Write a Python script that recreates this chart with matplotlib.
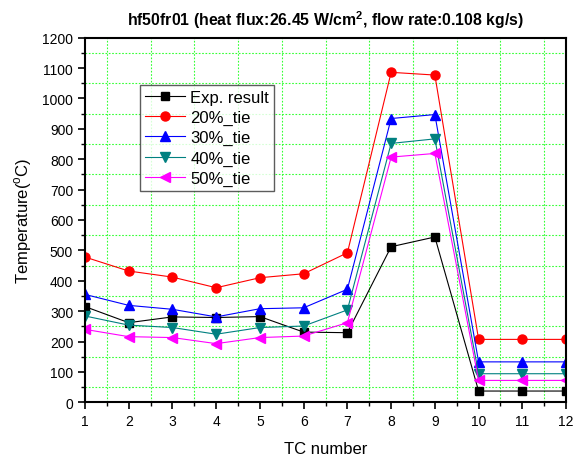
import matplotlib
matplotlib.use("Agg")
import matplotlib.pyplot as plt
import numpy as np
from matplotlib.ticker import MultipleLocator

plt.rcParams['font.family'] = ['Liberation Sans', 'DejaVu Sans']

tc = [1, 2, 3, 4, 5, 6, 7, 8, 9, 10, 11, 12]
exp_result = [315, 262, 281, 279, 282, 231, 229, 512, 544, 37, 37, 37]
tie_20 = [478, 432, 412, 377, 410, 423, 492, 1086, 1077, 207, 207, 207]
tie_30 = [355, 319, 306, 281, 308, 311, 372, 934, 947, 133, 133, 133]
tie_40 = [284, 254, 246, 224, 246, 251, 304, 852, 867, 94, 94, 94]
tie_50 = [240, 216, 213, 193, 213, 218, 262, 807, 819, 72, 72, 72]

fig = plt.figure(figsize=(5.86, 4.60), dpi=100)
ax = fig.add_axes([0.145, 0.1233, 0.821, 0.7926])

ax.plot(tc, exp_result, '-s', color='black', lw=0.8, ms=6, label='Exp. result')
ax.plot(tc, tie_20, '-o', color='red', lw=0.8, ms=6.5, label='20%_tie')
ax.plot(tc, tie_30, '-^', color='blue', lw=0.8, ms=7, label='30%_tie')
ax.plot(tc, tie_40, '-v', color='#008080', lw=0.8, ms=7, label='40%_tie')
ax.plot(tc, tie_50, '-<', color='magenta', lw=0.8, ms=7, label='50%_tie')

ax.set_xlim(1, 12)
ax.set_ylim(0, 1200)
ax.xaxis.set_major_locator(MultipleLocator(1))
ax.yaxis.set_major_locator(MultipleLocator(100))

# grid sits on the minor ticks (half steps), like the original
ax.set_xticks(np.arange(1.5, 12, 1), minor=True)
ax.set_yticks(np.arange(50, 1200, 100), minor=True)
ax.grid(which='minor', color='#33ff33', ls=(0, (1.5, 1.5)), lw=0.8)
ax.grid(which='major', visible=False)
ax.set_axisbelow(True)

ax.tick_params(which='major', direction='out', length=5, width=1.2, labelsize=10,
               top=False, right=False)
ax.tick_params(which='minor', direction='out', length=3, width=1.0,
               top=False, right=False)
for s in ax.spines.values():
    s.set_linewidth(1.5)

ax.set_xlabel('TC number', fontsize=12, labelpad=9)
ax.set_ylabel('Temperature($^\\mathregular{o}$C)', fontsize=12, labelpad=6)
ax.set_title('hf50fr01 (heat flux:26.45 W/cm$^\\mathregular{2}$, flow rate:0.108 kg/s)',
             fontsize=11.4, fontweight='bold', pad=9)

leg = ax.legend(loc='upper left', bbox_to_anchor=(0.115, 0.87), fontsize=12,
                frameon=True, fancybox=False, borderpad=0.3, labelspacing=0.3,
                handlelength=2.4, handletextpad=0.3, borderaxespad=0)
leg.get_frame().set_edgecolor('#333333')
leg.get_frame().set_linewidth(1.0)

plt.savefig('out.png', dpi=100)
